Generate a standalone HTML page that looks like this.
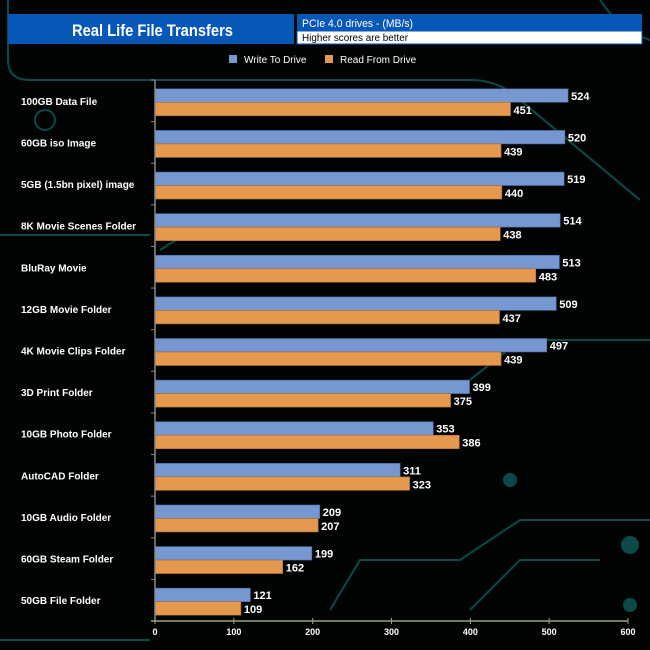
<!DOCTYPE html>
<html><head><meta charset="utf-8"><style>
body{margin:0;background:#000;}
svg{display:block;font-family:"Liberation Sans",Arial,sans-serif;}
</style></head><body>
<svg id="chart" width="650" height="650">
<rect width="650" height="650" fill="#020404"/>
<g fill="none" stroke="#0b4a48" stroke-width="2">
<path d="M8,0 V60 Q8,80 30,80 H470 Q500,80 520,100 L640,200"/>
<path d="M600,0 Q620,30 650,40"/>
<path d="M470,380 L520,340 H650"/>
<path d="M330,610 L360,560 H460 L520,520 H650"/>
<path d="M470,610 L520,560 H600"/>
<path d="M0,235 H150"/>
<path d="M0,640 H150"/>
<path d="M160,250 Q220,210 260,230"/>
<circle cx="630" cy="545" r="8" fill="#0b4a48"/>
<circle cx="630" cy="605" r="6" fill="#0b4a48"/>
<circle cx="510" cy="480" r="6" fill="#0b4a48"/>
<circle cx="45" cy="120" r="10"/>
</g>
<rect x="8" y="14" width="286" height="30" fill="#0757b6"/>
<text x="72" y="36" fill="#fff" font-size="17" font-weight="bold" textLength="161" lengthAdjust="spacingAndGlyphs">Real Life File Transfers</text>
<rect x="297" y="14" width="345" height="17" fill="#0757b6"/>
<rect x="297" y="31" width="345" height="13" fill="#fff" stroke="#0757b6"/>
<text x="302" y="27" fill="#fff" font-size="11" textLength="111" lengthAdjust="spacingAndGlyphs">PCIe 4.0 drives - (MB/s)</text>
<text x="302" y="41" fill="#000" font-size="10" textLength="106" lengthAdjust="spacingAndGlyphs">Higher scores are better</text>
<rect x="229" y="55" width="8" height="8" fill="#7797d0"/>
<text x="244" y="63" fill="#fff" font-size="10">Write To  Drive</text>
<rect x="325" y="55" width="8" height="8" fill="#e4994f"/>
<text x="340" y="63" fill="#fff" font-size="10">Read From  Drive</text>
<g id="plot"></g>
</svg>
<script>
const categories=["100GB Data File","60GB iso Image","5GB (1.5bn pixel) image","8K Movie Scenes Folder","BluRay Movie","12GB Movie Folder","4K Movie Clips Folder","3D Print Folder","10GB Photo Folder","AutoCAD Folder","10GB Audio Folder","60GB Steam Folder","50GB File Folder"];
const writeValues=[524,520,519,514,513,509,497,399,353,311,209,199,121];
const readValues=[451,439,440,438,483,437,439,375,386,323,207,162,109];
const tickLabels=[0,100,200,300,400,500,600];
const NS="http://www.w3.org/2000/svg";
const g=document.getElementById('plot');
const x0=155,x1=628,vmax=600,yTop=80,yBot=621;
const step=(yBot-yTop)/categories.length;
const xs=v=>x0+v/vmax*(x1-x0);
const yc=i=>yTop+step*(i+0.5);
function el(t,a){const e=document.createElementNS(NS,t);for(const k in a)e.setAttribute(k,a[k]);g.appendChild(e);return e;}
categories.forEach((c,i)=>{
  const y=yc(i);
  const w=el('rect',{x:x0,y:y-12,width:xs(writeValues[i])-x0,height:13.5,fill:'#7797d0',stroke:'#4a66a0','stroke-width':0.6});
  
  
  const r=el('rect',{x:x0,y:y+1.5,width:xs(readValues[i])-x0,height:13.5,fill:'#e4994f',stroke:'#a86a30','stroke-width':0.6});
  
  
  const tw=el('text',{x:xs(writeValues[i])+3,y:y-1,fill:'#fff','font-size':11,'font-weight':'bold'});
  tw.textContent=writeValues[i];
  
  
  const tr=el('text',{x:xs(readValues[i])+3,y:y+13,fill:'#fff','font-size':11,'font-weight':'bold'});
  tr.textContent=readValues[i];
  
  
  const lb=el('text',{x:21,y:y+4,fill:'#fff','font-size':10,'font-weight':'bold'});
  lb.textContent=c;
  
  
  const tk=el('line',{x1:x0-4,x2:x0,y1:yTop+step*i,y2:yTop+step*i,stroke:'#888'});
  
  
});
const ya=el('line',{x1:x0,x2:x0,y1:yTop,y2:yBot,stroke:'#888','stroke-width':1.5});


const xa=el('line',{x1:x0-4,x2:x1,y1:yBot,y2:yBot,stroke:'#8fa77f','stroke-width':1.5});


tickLabels.forEach(t=>{
  const l=el('line',{x1:xs(t),x2:xs(t),y1:yBot-3,y2:yBot+3,stroke:'#8fa77f'});
  
  
  const tx=el('text',{x:xs(t),y:yBot+14,fill:'#fff','font-size':9,'font-weight':'bold','text-anchor':'middle'});
  tx.textContent=t;
  
  
});
</script>
</body></html>
